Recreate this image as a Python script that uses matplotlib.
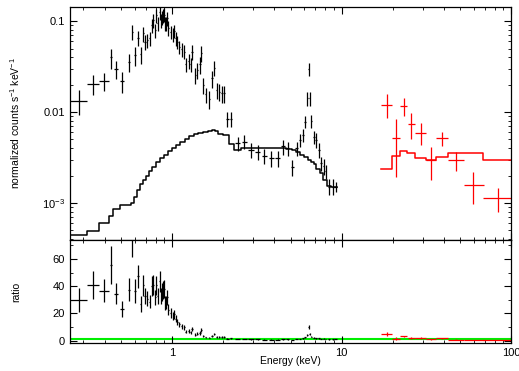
import numpy as np
import matplotlib
matplotlib.use("Agg")
import matplotlib.pyplot as plt
from matplotlib.ticker import MultipleLocator, LogLocator, NullFormatter

plt.rcParams['font.family'] = ['Liberation Sans', 'DejaVu Sans']
plt.rcParams['mathtext.default'] = 'regular'

# black spectrum (soft X-ray): energy, half bin width, flux, flux error
black_e = [0.282, 0.342, 0.396, 0.434, 0.468, 0.508, 0.557, 0.582, 0.604, 0.63,
           0.653, 0.674, 0.692, 0.714, 0.738, 0.758, 0.772, 0.793, 0.808, 0.823,
           0.846, 0.86, 0.869, 0.884, 0.897, 0.909, 0.925, 0.938, 0.951, 0.982,
           1.014, 1.028, 1.05, 1.075, 1.10, 1.14, 1.18, 1.205, 1.25, 1.29,
           1.31, 1.37, 1.41, 1.46, 1.49, 1.53, 1.58, 1.66, 1.72, 1.77,
           1.83, 1.90, 1.97, 2.03, 2.12, 2.22, 2.43, 2.67, 2.92, 3.20,
           3.50, 3.84, 4.20, 4.50, 4.81, 5.11, 5.44, 5.69, 5.90, 6.07,
           6.27, 6.38, 6.48, 6.62, 6.86, 7.08, 7.33, 7.58, 7.83, 8.05,
           8.42, 8.88, 9.22]
black_de = [0.032, 0.027, 0.027, 0.006, 0.012, 0.013, 0.008, 0.005, 0.006, 0.006,
            0.006, 0.005, 0.005, 0.005, 0.005, 0.005, 0.005, 0.005, 0.005, 0.005,
            0.005, 0.005, 0.005, 0.006, 0.006, 0.006, 0.006, 0.006, 0.006, 0.007,
            0.007, 0.007, 0.008, 0.008, 0.008, 0.009, 0.009, 0.009, 0.010, 0.010,
            0.010, 0.011, 0.011, 0.012, 0.012, 0.012, 0.013, 0.013, 0.014, 0.014,
            0.015, 0.015, 0.016, 0.016, 0.04, 0.04, 0.08, 0.09, 0.10, 0.11,
            0.12, 0.13, 0.14, 0.10, 0.10, 0.10, 0.10, 0.08, 0.06, 0.06,
            0.05, 0.04, 0.05, 0.06, 0.08, 0.08, 0.08, 0.08, 0.08, 0.08,
            0.12, 0.15, 0.15]
black_f = [0.0133, 0.0203, 0.0219, 0.0399, 0.0297, 0.0219, 0.0357, 0.0763, 0.0423, 0.0656,
           0.043, 0.0733, 0.0592, 0.0618, 0.0645, 0.0904, 0.102, 0.0796, 0.116, 0.0943,
           0.125, 0.102, 0.111, 0.116, 0.118, 0.094, 0.094, 0.107, 0.0845, 0.076,
           0.0715, 0.078, 0.0645, 0.059, 0.052, 0.049, 0.046, 0.0334, 0.0364, 0.0334,
           0.046, 0.0255, 0.029, 0.0334, 0.0449, 0.0198, 0.0156, 0.0139, 0.0234, 0.0307,
           0.0174, 0.0167, 0.016, 0.016, 0.0084, 0.0084, 0.00453, 0.00472, 0.00382, 0.00366,
           0.00328, 0.00311, 0.00311, 0.00418, 0.0040, 0.0025, 0.0040, 0.00494, 0.00561, 0.00785,
           0.0141, 0.030, 0.0141, 0.0079, 0.00535, 0.00494, 0.00382, 0.00272, 0.00255, 0.00222,
           0.00151, 0.00151, 0.00151]
black_df = [0.004, 0.005, 0.005, 0.010, 0.0065, 0.0055, 0.008, 0.015, 0.010, 0.012,
            0.009, 0.014, 0.011, 0.011, 0.011, 0.016, 0.018, 0.014, 0.020, 0.017,
            0.022, 0.018, 0.020, 0.020, 0.020, 0.017, 0.016, 0.018, 0.015, 0.013,
            0.012, 0.013, 0.011, 0.010, 0.009, 0.009, 0.008, 0.006, 0.007, 0.006,
            0.009, 0.005, 0.006, 0.007, 0.009, 0.004, 0.003, 0.003, 0.005, 0.006,
            0.0035, 0.0035, 0.0035, 0.0035, 0.0015, 0.0015, 0.0008, 0.0008, 0.0007, 0.0007,
            0.0006, 0.0006, 0.0006, 0.0008, 0.0007, 0.0005, 0.0007, 0.0008, 0.0009, 0.0012,
            0.0025, 0.005, 0.0025, 0.0013, 0.0009, 0.0009, 0.0007, 0.0005, 0.0005, 0.0004,
            0.0003, 0.0003, 0.0002]

# black model (step), bin edges and values
bmod_edges = [0.246, 0.315, 0.370, 0.424, 0.449, 0.490, 0.570, 0.596, 0.62, 0.645,
              0.67, 0.70, 0.73, 0.76, 0.80, 0.85, 0.90, 0.95, 1.0, 1.06,
              1.12, 1.19, 1.26, 1.34, 1.43, 1.52, 1.62, 1.72, 1.80, 1.86,
              2.0, 2.17, 2.33, 2.55, 3.0, 3.5, 4.0, 4.7, 5.1, 5.4,
              5.7, 6.0, 6.3, 6.6, 6.85, 7.1, 7.4, 7.8, 8.2, 8.6,
              9.4]
bmod_val = [4.45e-4, 4.96e-4, 5.98e-4, 7.2e-4, 8.6e-4, 9.5e-4, 1.0e-3, 1.16e-3, 1.39e-3,
            1.6e-3, 1.8e-3, 2.0e-3, 2.25e-3, 2.5e-3, 2.85e-3, 3.1e-3, 3.37e-3, 3.7e-3,
            4.0e-3, 4.33e-3, 4.7e-3, 5.1e-3, 5.4e-3, 5.7e-3, 5.95e-3, 6.1e-3, 6.2e-3,
            6.4e-3, 6.2e-3, 5.8e-3, 5.6e-3, 4.5e-3, 3.85e-3, 4.0e-3, 4.05e-3, 4.05e-3,
            4.0e-3, 3.95e-3, 3.82e-3, 3.65e-3, 3.4e-3, 3.2e-3, 3.0e-3, 2.8e-3, 2.65e-3,
            2.35e-3, 2.13e-3, 1.78e-3, 1.55e-3, 1.51e-3]

# red spectrum (hard X-ray): bin edges, flux, flux error
red_lo = [17.1, 19.7, 22.0, 24.5, 27.2, 31.4, 36.0, 42.6, 52.8, 68.6]
red_hi = [19.7, 22.0, 24.4, 27.2, 31.6, 36.0, 42.6, 52.8, 69.0, 101.0]
red_e = [18.4, 20.8, 23.3, 25.8, 29.2, 33.5, 38.9, 47.3, 59.8, 84.1]
red_f = [0.0121, 0.00514, 0.01164, 0.00738, 0.00593, 0.00297, 0.00514, 0.00297, 0.00156, 0.00113]
red_df = [0.0035, 0.0032, 0.0026, 0.0023, 0.0016, 0.0012, 0.0009, 0.0007, 0.0006, 0.00033]

rmod_edges = [17.1, 19.7, 22.0, 24.4, 27.2, 31.4, 36.0, 42.6, 52.8, 68.6, 101.0]
rmod_val = [0.00237, 0.00331, 0.00376, 0.00352, 0.00315, 0.00297, 0.00317, 0.00352, 0.00352, 0.0030]


def model_at(e, edges, vals):
    idx = np.searchsorted(edges, e, side='right') - 1
    idx = np.clip(idx, 0, len(vals) - 1)
    return np.asarray(vals)[idx]


def style(ax):
    ax.tick_params(which='both', direction='in', top=True, right=True, labelsize=8)
    ax.tick_params(which='major', length=5, width=0.8)
    ax.tick_params(which='minor', length=2.5, width=0.6)
    for s in ax.spines.values():
        s.set_linewidth(0.9)


fig = plt.figure(figsize=(5.19, 3.71), dpi=100)
ax1 = fig.add_axes([0.135, 0.353, 0.85, 0.628])
ax2 = fig.add_axes([0.135, 0.0755, 0.85, 0.2775], sharex=ax1)

# top panel
ax1.errorbar(black_e, black_f, xerr=black_de, yerr=black_df, fmt='none',
             ecolor='black', elinewidth=0.9, capsize=0)
ax1.step(bmod_edges, bmod_val + [bmod_val[-1]], where='post', color='black', lw=1.1)
red_xerr = [np.array(red_e) - np.array(red_lo), np.array(red_hi) - np.array(red_e)]
ax1.errorbar(red_e, red_f, xerr=red_xerr, yerr=red_df, fmt='none',
             ecolor='red', elinewidth=0.9, capsize=0)
ax1.step(rmod_edges, rmod_val + [rmod_val[-1]], where='post', color='red', lw=1.1)

ax1.set_xscale('log')
ax1.set_yscale('log')
ax1.set_xlim(0.25, 100)
ax1.set_ylim(3.9e-4, 0.143)
ax1.set_yticks([1e-3, 1e-2, 0.1], ['$10^{-3}$', '0.01', '0.1'])
ax1.yaxis.set_minor_locator(LogLocator(subs=np.arange(2, 10)))
ax1.yaxis.set_minor_formatter(NullFormatter())
ax1.set_ylabel('normalized counts s$^{-1}$ keV$^{-1}$', fontsize=7.5)
ax1.yaxis.set_label_coords(-0.11, 0.5)
plt.setp(ax1.get_xticklabels(), visible=False)
style(ax1)

# bottom panel: ratio data / model
b_mod = model_at(black_e, bmod_edges, bmod_val)
r_mod = model_at(red_e, rmod_edges, rmod_val)
ax2.axhline(1, color='#00ee00', lw=1.5, zorder=1)
ax2.errorbar(black_e, np.array(black_f) / b_mod, xerr=black_de,
             yerr=np.array(black_df) / b_mod, fmt='none', ecolor='black',
             elinewidth=0.9, capsize=0)
ax2.errorbar(red_e, np.array(red_f) / r_mod, xerr=red_xerr,
             yerr=np.array(red_df) / r_mod, fmt='none', ecolor='red',
             elinewidth=0.9, capsize=0)
ax2.set_ylim(-1.7, 74)
ax2.yaxis.set_major_locator(MultipleLocator(20))
ax2.yaxis.set_minor_locator(MultipleLocator(10))
ax2.set_xticks([1, 10, 100], ['1', '10', '100'])
ax2.set_xlabel('Energy (keV)', fontsize=7.5)
ax2.xaxis.set_label_coords(0.5, -0.125)
ax2.set_ylabel('ratio', fontsize=7.5)
ax2.yaxis.set_label_coords(-0.11, 0.5)
style(ax2)

fig.savefig('out.png', dpi=100)
